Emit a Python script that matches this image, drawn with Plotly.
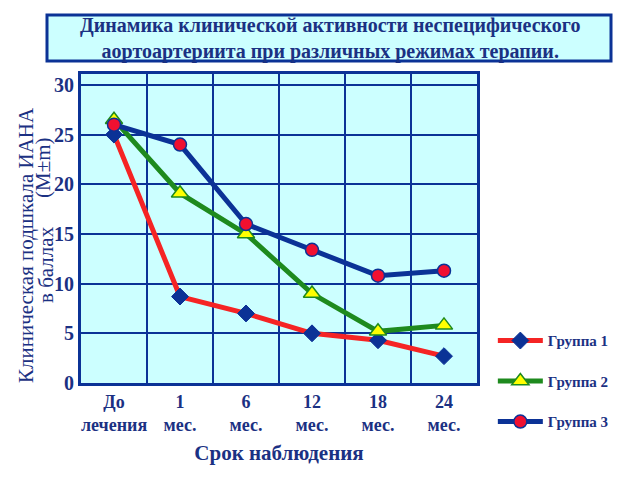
import plotly.graph_objects as go

categories = ["До<br>лечения", "1<br>мес.", "6<br>мес.", "12<br>мес.", "18<br>мес.", "24<br>мес."]
group1 = [25.0, 8.7, 7.0, 5.0, 4.3, 2.7]
group2 = [26.5, 19.1, 15.0, 9.0, 5.2, 5.8]
group3 = [26.0, 24.0, 16.0, 13.4, 10.8, 11.3]
yticks = [0, 5, 10, 15, 20, 25, 30]

NAVY = "#0B3296"
TEXT = "#1B3183"
BG = "#CCFFFF"
FONT = "Liberation Serif"

xs = list(range(len(categories)))

fig = go.Figure()
fig.add_trace(go.Scatter(
    x=xs, y=group1, name="Группа 1", mode="lines+markers", legendgroup="g1",
    line=dict(color="#F52424", width=5),
    marker=dict(symbol="diamond", size=13, color=NAVY, line=dict(color=NAVY, width=1))))
fig.add_trace(go.Scatter(
    x=xs, y=group2, name="Группа 2", mode="lines+markers", legendgroup="g2",
    line=dict(color="#1E8A1E", width=5),
    marker=dict(symbol="triangle-up", size=15, color="#FFFF00", line=dict(color="#1E8A1E", width=1.5))))
fig.add_trace(go.Scatter(
    x=xs, y=group3, name="Группа 3", mode="lines+markers", legendgroup="g3",
    line=dict(color=NAVY, width=5),
    marker=dict(symbol="circle", size=13, color="#F01030", line=dict(color=NAVY, width=1.5))))

fig.update_layout(
    width=640, height=480,
    margin=dict(l=81, r=163, t=74, b=97),
    paper_bgcolor="white", plot_bgcolor=BG,
    font=dict(family=FONT, color=TEXT, size=17),
    showlegend=True,
    legend=dict(x=1.04, y=0.19, xanchor="left", yanchor="top",
                font=dict(family=FONT, size=15, color=TEXT, weight="bold"),
                tracegroupgap=18, itemwidth=45, bgcolor="rgba(0,0,0,0)"),
)
fig.update_xaxes(
    range=[-0.5, len(categories) - 0.5],
    tickvals=xs, ticktext=categories, showgrid=False,
    tickfont=dict(family=FONT, size=18, color=TEXT, weight="bold"),
    minor=dict(tickvals=[i + 0.5 for i in xs[:-1]], showgrid=True, gridcolor=NAVY, gridwidth=2, ticks=""),
    showline=True, linecolor=NAVY, linewidth=3, mirror=True, zeroline=False,
    title=dict(text="Срок наблюдения", font=dict(family=FONT, size=21, color=TEXT, weight="bold"), standoff=12),
)
fig.update_yaxes(
    range=[0, 31.1], tickvals=yticks, showgrid=True, gridcolor=NAVY, gridwidth=2,
    tickfont=dict(family=FONT, size=20, color=TEXT, weight="bold"),
    showline=True, linecolor=NAVY, linewidth=3, mirror=True, zeroline=False,
)

# Title box
fig.add_shape(type="rect", xref="paper", yref="paper",
              x0=(47 - 81) / 396, x1=(611 - 81) / 396,
              y0=(383 - 61) / 309, y1=(383 - 15) / 309,
              fillcolor=BG, line=dict(color=NAVY, width=3), layer="above")
fig.add_annotation(text="Динамика клинической активности неспецифического<br>аортоартериита при различных режимах терапии.",
                   xref="paper", yref="paper", x=(330 - 81) / 396, y=(383 - 38) / 309,
                   xanchor="center", yanchor="middle", align="center",
                   showarrow=False, font=dict(family=FONT, size=20, color=TEXT, weight="bold"))

# Y axis title
fig.add_annotation(text="Клиническая подшкала ИАНА", textangle=-90,
                   xref="paper", yref="paper", x=(26 - 81) / 396, y=(383 - 245) / 309,
                   xanchor="center", yanchor="middle",
                   showarrow=False, font=dict(family=FONT, size=21, color=TEXT))
fig.add_annotation(text="в баллах", textangle=-90,
                   xref="paper", yref="paper", x=(46 - 81) / 396, y=(383 - 265) / 309,
                   xanchor="center", yanchor="middle",
                   showarrow=False, font=dict(family=FONT, size=21, color=TEXT))
fig.add_annotation(text="(M±m)", textangle=-90,
                   xref="paper", yref="paper", x=(43 - 81) / 396, y=(383 - 168) / 309,
                   xanchor="center", yanchor="middle",
                   showarrow=False, font=dict(family=FONT, size=21, color=TEXT))

fig.write_html("out.html")
